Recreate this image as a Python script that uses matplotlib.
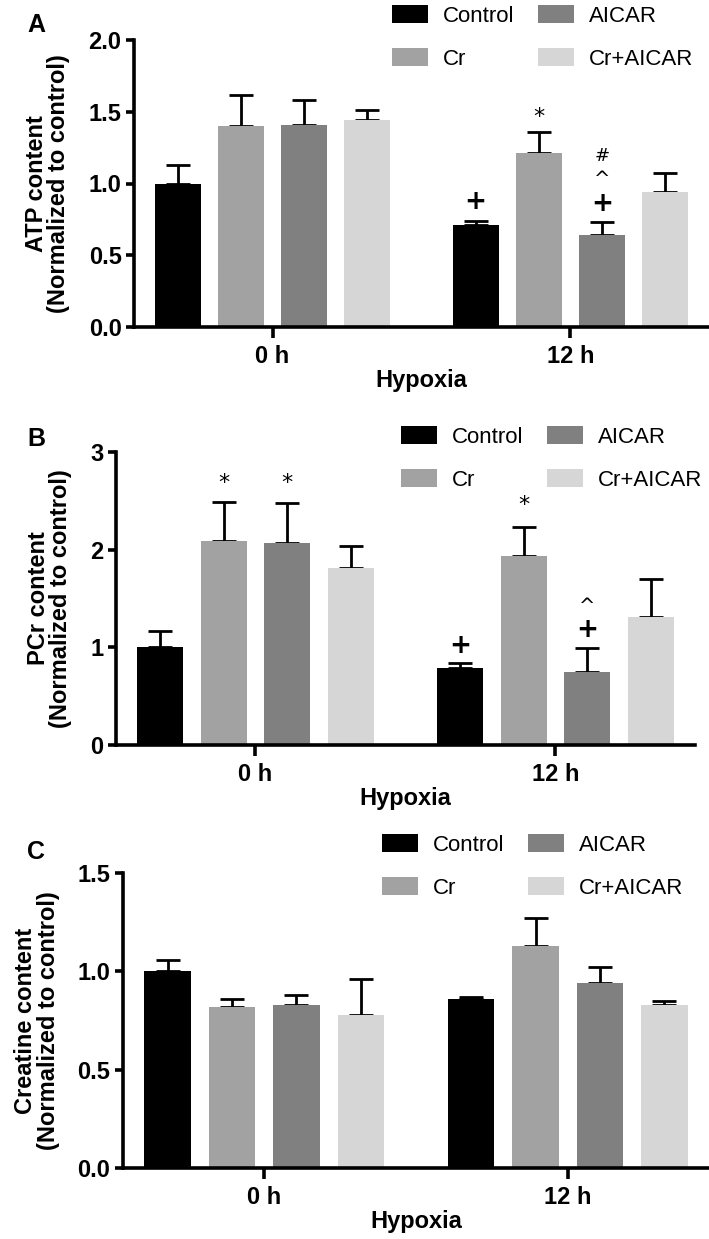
import matplotlib
matplotlib.use("Agg")
import matplotlib.pyplot as plt
import numpy as np

# Data
groups = ["0 h", "12 h"]
treatments = ["Control", "Cr", "AICAR", "Cr+AICAR"]
colors = ["#000000", "#a2a2a2", "#808080", "#d6d6d6"]

atp_mean = [[1.00, 1.40, 1.41, 1.44], [0.71, 1.21, 0.64, 0.94]]
atp_err = [[0.13, 0.22, 0.17, 0.07], [0.03, 0.15, 0.09, 0.13]]
pcr_mean = [[1.00, 2.09, 2.07, 1.81], [0.79, 1.94, 0.75, 1.31]]
pcr_err = [[0.17, 0.40, 0.41, 0.23], [0.05, 0.29, 0.24, 0.39]]
cre_mean = [[1.00, 0.82, 0.83, 0.78], [0.86, 1.13, 0.94, 0.83]]
cre_err = [[0.06, 0.04, 0.05, 0.18], [0.01, 0.14, 0.08, 0.02]]

# significance marks: (group, treatment, symbol, y position)
atp_marks = [(1, 0, "+", 0.87), (1, 1, "*", 1.46), (1, 2, "+", 0.86),
             (1, 2, "^", 1.03), (1, 2, "#", 1.19)]
pcr_marks = [(0, 1, "*", 2.68), (0, 2, "*", 2.68), (1, 1, "*", 2.46),
             (1, 0, "+", 1.01), (1, 2, "+", 1.18), (1, 2, "^", 1.42)]
cre_marks = []

W, H = 709, 1239
sans = "Liberation Sans"
fig = plt.figure(figsize=(W / 100, H / 100), dpi=100)


def panel(px, letter, means, errs, marks, ymax, yticks, ylabel, leg):
    left, top, right, bottom = px
    ax = fig.add_axes([left / W, 1 - bottom / H, (right - left) / W, (bottom - top) / H])
    step, bw = 0.212, 0.153
    for t in range(4):
        xs = np.arange(2) + (t - 1.5) * step
        vals = [means[g][t] for g in range(2)]
        ers = [errs[g][t] for g in range(2)]
        ax.bar(xs, vals, bw, color=colors[t], label=treatments[t], zorder=2)
        ax.errorbar(xs, vals, yerr=[np.zeros(2), ers], fmt="none", ecolor="black",
                    elinewidth=2.0, capsize=8.5, capthick=2.0, zorder=1)
    for g, t, s, y in marks:
        size = {"+": 19, "*": 16, "^": 14, "#": 13}[s]
        w = "bold" if s == "+" else "normal"
        ax.text(g + (t - 1.5) * step, y, s, ha="center", va="center",
                fontsize=size, fontweight=w)
    ax.set_xlim(-0.465, 1.465)
    ax.set_ylim(0, ymax)
    ax.set_yticks(yticks)
    ax.set_yticklabels(yticks if isinstance(yticks[0], int) else ["%.1f" % v for v in yticks],
                       family=sans, fontweight="bold", fontsize=17)
    ax.set_xticks([0, 1])
    ax.set_xticklabels(groups, family=sans, fontweight="bold", fontsize=17)
    for s in ["top", "right"]:
        ax.spines[s].set_visible(False)
    for s in ["left", "bottom"]:
        ax.spines[s].set_linewidth(2.6)
    ax.tick_params(axis="y", width=2.6, length=6, pad=3)
    ax.tick_params(axis="x", width=2.6, length=8, pad=5)
    ax.set_xlabel("Hypoxia", family=sans, fontweight="bold", fontsize=17, labelpad=1)
    ax.set_ylabel(ylabel, fontweight="bold", fontsize=17, family=sans,
                  linespacing=0.95, labelpad=13)
    ax.text(letter[1] / W, 1 - letter[2] / H, letter[0], transform=fig.transFigure,
            fontsize=18, fontweight="bold", family=sans, ha="center", va="center")
    handles, labels = ax.get_legend_handles_labels()
    fig.legend(handles, labels,
               ncol=2, loc="upper left", bbox_to_anchor=(leg[0] / W, 1 - leg[1] / H),
               frameon=False, prop={"family": sans, "size": 16},
               handlelength=1.6, handleheight=0.9, handletextpad=0.7,
               columnspacing=1.05, labelspacing=0.95, borderpad=0, borderaxespad=0)
    return ax


panel((134, 40, 709, 327), ("A", 36, 25), atp_mean, atp_err, atp_marks, 2.0,
      [0.0, 0.5, 1.0, 1.5, 2.0], "ATP content\n(Normalized to control)", (392, 5))
panel((116, 452, 695, 745), ("B", 36, 439), pcr_mean, pcr_err, pcr_marks, 3,
      [0, 1, 2, 3], "PCr content\n(Normalized to control)", (401, 426))
panel((123, 873, 709, 1168), ("C", 36, 852), cre_mean, cre_err, cre_marks, 1.5,
      [0.0, 0.5, 1.0, 1.5], "Creatine content\n(Normalized to control)", (382, 834))

fig.savefig("out.png", dpi=100)
